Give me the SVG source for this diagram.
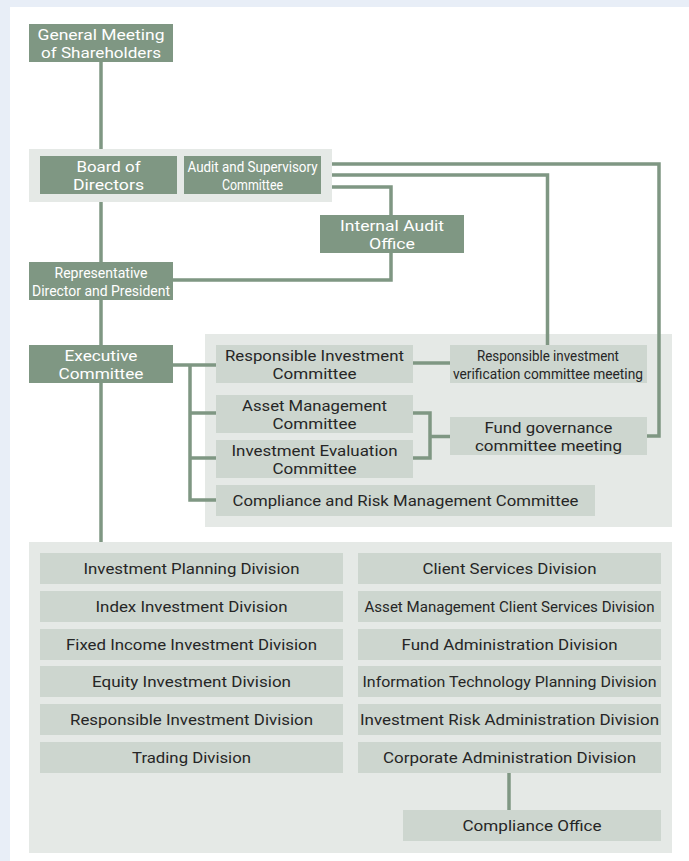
<svg xmlns="http://www.w3.org/2000/svg" width="689" height="861" viewBox="0 0 689 861">
  <style>
    .dark { fill: #7f9783; }
    .panel { fill: #e5e9e6; }
    .light { fill: #cdd6cf; }
    text { font-family: Roboto, "Noto Sans", "DejaVu Sans", sans-serif; font-size: 15px; text-anchor: middle; }
    .w { fill: #ffffff; }
    .k { fill: #262626; }
    .conn { fill: none; stroke: #7f9783; stroke-width: 3.5; stroke-linecap: butt; stroke-linejoin: miter; }
  </style>

  <!-- page background -->
  <rect x="0" y="0" width="689" height="861" fill="#e8eef7"/>
  <rect x="10" y="7" width="679" height="854" fill="#ffffff"/>

  <!-- grouping panels -->
  <rect class="panel" x="29" y="149" width="303" height="53"/>
  <rect class="panel" x="205" y="334" width="467" height="193"/>
  <rect class="panel" x="29" y="542" width="643" height="311"/>

  <!-- connectors -->
  <g id="connectors" class="conn">
    <path d="M101 62 V149"/>
    <path d="M101 202 V262"/>
    <path d="M101 300 V345"/>
    <path d="M101 383 V542"/>
    <path d="M332 164 H659 V436 H647"/>
    <path d="M332 175 H547.5 V345"/>
    <path d="M332 187 H391 V215"/>
    <path d="M391 253 V280 H173"/>
    <path d="M173 365 H216"/>
    <path d="M190 365 V500 H216"/>
    <path d="M190 413 H216"/>
    <path d="M190 458 H216"/>
    <path d="M413 363 H450"/>
    <path d="M413 413 H430 V458 H413"/>
    <path d="M430 436.5 H450"/>
    <path d="M509 773 V810"/>
  </g>

  <!-- governance nodes -->
  <g id="general-meeting">
    <rect class="dark" x="29" y="24" width="144" height="38"/>
    <text class="w" x="101" y="39.5" textLength="127" lengthAdjust="spacingAndGlyphs">General Meeting</text>
    <text class="w" x="101" y="57.5" textLength="120" lengthAdjust="spacingAndGlyphs">of Shareholders</text>
  </g>
  <g id="board-of-directors">
    <rect class="dark" x="40" y="156" width="137" height="38"/>
    <text class="w" x="108.5" y="171.5" textLength="64" lengthAdjust="spacingAndGlyphs">Board of</text>
    <text class="w" x="108.5" y="189.5" textLength="71" lengthAdjust="spacingAndGlyphs">Directors</text>
  </g>
  <g id="audit-supervisory-committee">
    <rect class="dark" x="184" y="156" width="137" height="38"/>
    <text class="w" x="252.5" y="171.5" textLength="130" lengthAdjust="spacingAndGlyphs">Audit and Supervisory</text>
    <text class="w" x="252.5" y="189.5" textLength="61" lengthAdjust="spacingAndGlyphs">Committee</text>
  </g>
  <g id="internal-audit-office">
    <rect class="dark" x="320" y="215" width="144" height="38"/>
    <text class="w" x="392" y="230.5" textLength="104" lengthAdjust="spacingAndGlyphs">Internal Audit</text>
    <text class="w" x="392" y="248.5" textLength="46" lengthAdjust="spacingAndGlyphs">Office</text>
  </g>
  <g id="representative-director">
    <rect class="dark" x="29" y="262" width="144" height="38"/>
    <text class="w" x="101" y="277.5" textLength="93" lengthAdjust="spacingAndGlyphs">Representative</text>
    <text class="w" x="101" y="295.5" textLength="138" lengthAdjust="spacingAndGlyphs">Director and President</text>
  </g>
  <g id="executive-committee">
    <rect class="dark" x="29" y="345" width="144" height="38"/>
    <text class="w" x="101" y="360.5" textLength="73" lengthAdjust="spacingAndGlyphs">Executive</text>
    <text class="w" x="101" y="378.5" textLength="85" lengthAdjust="spacingAndGlyphs">Committee</text>
  </g>

  <!-- committees -->
  <g id="responsible-investment-committee">
    <rect class="light" x="216" y="345" width="197" height="38"/>
    <text class="k" x="314.5" y="361" textLength="179" lengthAdjust="spacingAndGlyphs">Responsible Investment</text>
    <text class="k" x="314.5" y="379" textLength="84" lengthAdjust="spacingAndGlyphs">Committee</text>
  </g>
  <g id="ri-verification-meeting">
    <rect class="light" x="450" y="345" width="197" height="38"/>
    <text class="k" x="548" y="361" textLength="142" lengthAdjust="spacingAndGlyphs">Responsible investment</text>
    <text class="k" x="548" y="379" textLength="190" lengthAdjust="spacingAndGlyphs">verification committee meeting</text>
  </g>
  <g id="asset-management-committee">
    <rect class="light" x="216" y="395" width="197" height="38"/>
    <text class="k" x="314.5" y="410.5" textLength="145" lengthAdjust="spacingAndGlyphs">Asset Management</text>
    <text class="k" x="314.5" y="428.5" textLength="84" lengthAdjust="spacingAndGlyphs">Committee</text>
  </g>
  <g id="investment-evaluation-committee">
    <rect class="light" x="216" y="440" width="197" height="38"/>
    <text class="k" x="314.5" y="455.5" textLength="166" lengthAdjust="spacingAndGlyphs">Investment Evaluation</text>
    <text class="k" x="314.5" y="473.5" textLength="84" lengthAdjust="spacingAndGlyphs">Committee</text>
  </g>
  <g id="fund-governance-meeting">
    <rect class="light" x="450" y="417" width="197" height="38"/>
    <text class="k" x="548.5" y="432.5" textLength="128" lengthAdjust="spacingAndGlyphs">Fund governance</text>
    <text class="k" x="548.5" y="450.5" textLength="147" lengthAdjust="spacingAndGlyphs">committee meeting</text>
  </g>
  <g id="compliance-risk-committee">
    <rect class="light" x="216" y="485" width="379" height="31"/>
    <text class="k" x="405.5" y="506" textLength="346" lengthAdjust="spacingAndGlyphs">Compliance and Risk Management Committee</text>
  </g>

  <!-- divisions, left column -->
  <g id="investment-planning-division">
    <rect class="light" x="40" y="553" width="303" height="31"/>
    <text class="k" x="191.5" y="574" textLength="216" lengthAdjust="spacingAndGlyphs">Investment Planning Division</text>
  </g>
  <g id="index-investment-division">
    <rect class="light" x="40" y="591" width="303" height="31"/>
    <text class="k" x="191.5" y="612" textLength="192" lengthAdjust="spacingAndGlyphs">Index Investment Division</text>
  </g>
  <g id="fixed-income-investment-division">
    <rect class="light" x="40" y="629" width="303" height="31"/>
    <text class="k" x="191.5" y="650" textLength="251" lengthAdjust="spacingAndGlyphs">Fixed Income Investment Division</text>
  </g>
  <g id="equity-investment-division">
    <rect class="light" x="40" y="666" width="303" height="31"/>
    <text class="k" x="191.5" y="687" textLength="199" lengthAdjust="spacingAndGlyphs">Equity Investment Division</text>
  </g>
  <g id="responsible-investment-division">
    <rect class="light" x="40" y="704" width="303" height="31"/>
    <text class="k" x="191.5" y="725" textLength="243" lengthAdjust="spacingAndGlyphs">Responsible Investment Division</text>
  </g>
  <g id="trading-division">
    <rect class="light" x="40" y="742" width="303" height="31"/>
    <text class="k" x="191.5" y="763" textLength="119" lengthAdjust="spacingAndGlyphs">Trading Division</text>
  </g>

  <!-- divisions, right column -->
  <g id="client-services-division">
    <rect class="light" x="358" y="553" width="303" height="31"/>
    <text class="k" x="509.5" y="574" textLength="174" lengthAdjust="spacingAndGlyphs">Client Services Division</text>
  </g>
  <g id="am-client-services-division">
    <rect class="light" x="358" y="591" width="303" height="31"/>
    <text class="k" x="509.5" y="612" textLength="290" lengthAdjust="spacingAndGlyphs">Asset Management Client Services Division</text>
  </g>
  <g id="fund-administration-division">
    <rect class="light" x="358" y="629" width="303" height="31"/>
    <text class="k" x="509.5" y="650" textLength="216" lengthAdjust="spacingAndGlyphs">Fund Administration Division</text>
  </g>
  <g id="it-planning-division">
    <rect class="light" x="358" y="666" width="303" height="31"/>
    <text class="k" x="509.5" y="687" textLength="294" lengthAdjust="spacingAndGlyphs">Information Technology Planning Division</text>
  </g>
  <g id="investment-risk-administration-division">
    <rect class="light" x="358" y="704" width="303" height="31"/>
    <text class="k" x="509.5" y="725" textLength="299" lengthAdjust="spacingAndGlyphs">Investment Risk Administration Division</text>
  </g>
  <g id="corporate-administration-division">
    <rect class="light" x="358" y="742" width="303" height="31"/>
    <text class="k" x="509.5" y="763" textLength="253" lengthAdjust="spacingAndGlyphs">Corporate Administration Division</text>
  </g>
  <g id="compliance-office">
    <rect class="light" x="403" y="810" width="258" height="31"/>
    <text class="k" x="532" y="831" textLength="139" lengthAdjust="spacingAndGlyphs">Compliance Office</text>
  </g>
</svg>
